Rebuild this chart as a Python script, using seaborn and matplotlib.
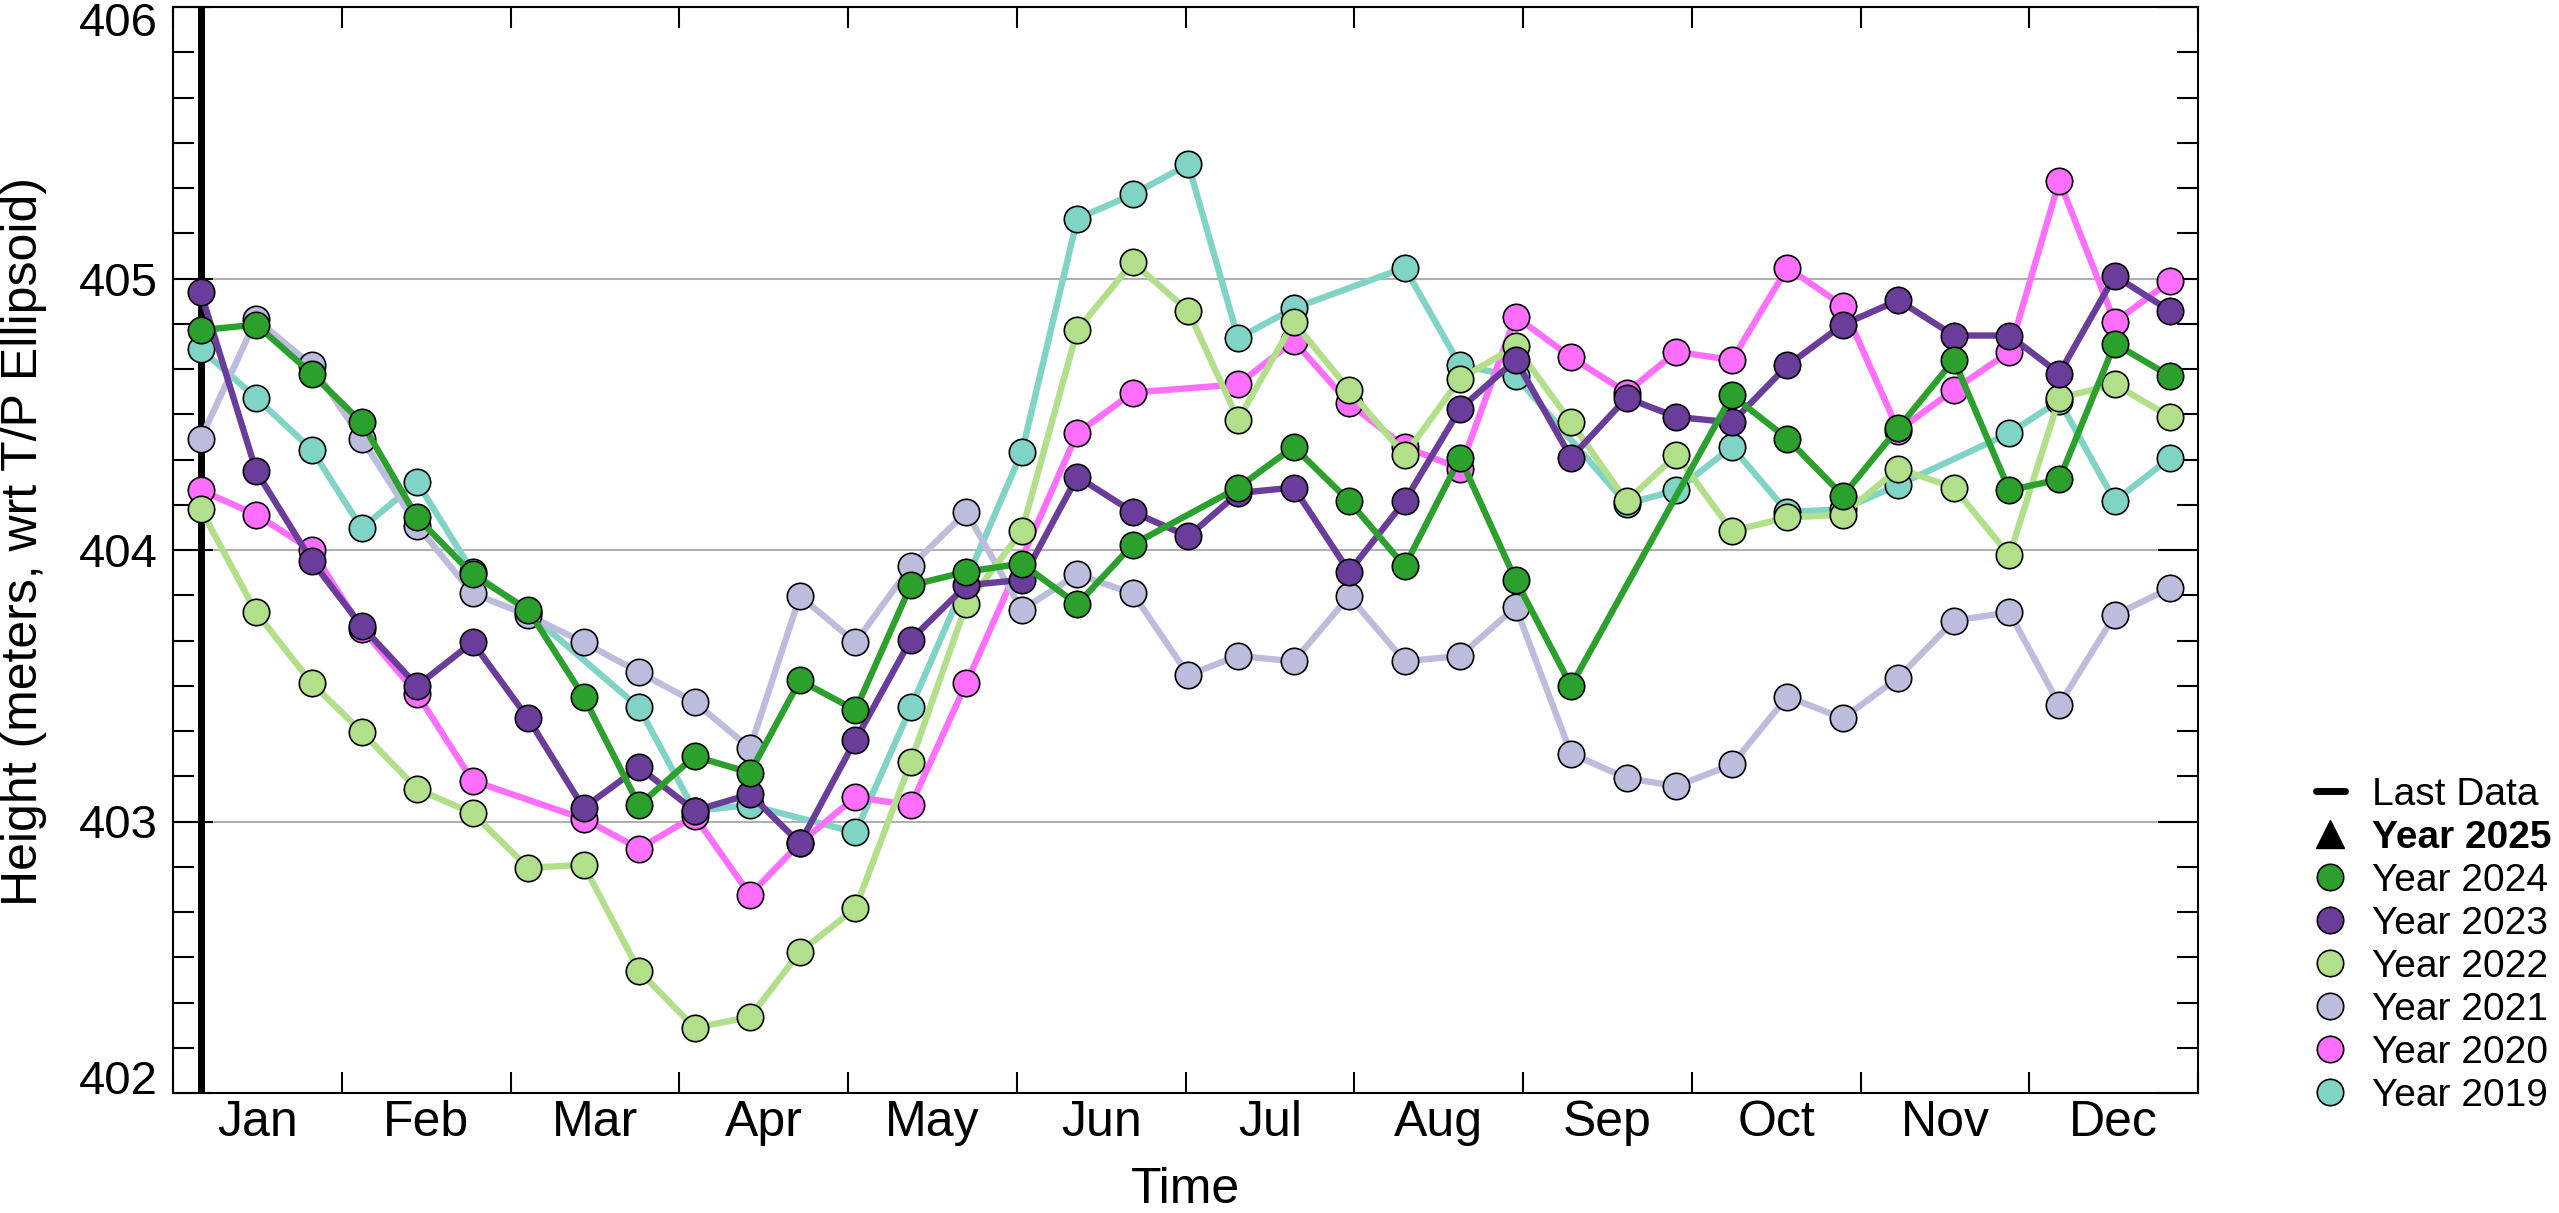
import numpy as np
import pandas as pd
import seaborn as sns
import matplotlib.pyplot as plt
from matplotlib.lines import Line2D
from matplotlib.ticker import MultipleLocator
from matplotlib.transforms import ScaledTranslation

nan = np.nan

# day of year of each ~10 day altimetry cycle
cycle_days = [5, 15, 25, 34, 44, 54, 64, 74, 84, 94, 104, 113, 123, 133, 143, 153, 163, 173,
              183, 192, 202, 212, 222, 232, 242, 252, 262, 271, 281, 291, 301, 311, 321, 331,
              340, 350, 360]
last_data_day = 5

months = ['Jan', 'Feb', 'Mar', 'Apr', 'May', 'Jun', 'Jul', 'Aug', 'Sep', 'Oct', 'Nov', 'Dec']

# heights (m), nan = no cycle that year
h2024 = [404.81, 404.83, 404.65, 404.47, 404.12, 403.91, 403.78, 403.46, 403.06, 403.24,
         403.18, 403.52, 403.41, 403.87, 403.92, 403.95, 403.80, 404.02, nan, 404.23,
         404.38, 404.18, 403.94, 404.34, 403.89, 403.50, nan, nan, 404.57, 404.41,
         404.20, 404.45, 404.70, 404.22, 404.26, 404.76, 404.64]
h2023 = [404.95, 404.29, 403.96, 403.72, 403.50, 403.66, 403.38, 403.05, 403.20, 403.04,
         403.10, 402.92, 403.30, 403.67, 403.87, 403.89, 404.27, 404.14, 404.05, 404.21,
         404.23, 403.92, 404.18, 404.52, 404.70, 404.34, 404.56, 404.49, 404.47, 404.68,
         404.83, 404.92, 404.79, 404.79, 404.65, 405.01, 404.88]
h2022 = [404.15, 403.77, 403.51, 403.33, 403.12, 403.03, 402.83, 402.84, 402.45, 402.24,
         402.28, 402.52, 402.68, 403.22, 403.80, 404.07, 404.81, 405.06, 404.88, 404.48,
         404.84, 404.59, 404.35, 404.63, 404.75, 404.47, 404.18, 404.35, 404.07, 404.12,
         404.13, 404.30, 404.23, 403.98, 404.56, 404.61, 404.49]
h2021 = [404.41, 404.85, 404.68, 404.41, 404.09, 403.84, 403.76, 403.66, 403.55, 403.44,
         403.27, 403.83, 403.66, 403.94, 404.14, 403.78, 403.91, 403.84, 403.54, 403.61,
         403.59, 403.83, 403.59, 403.61, 403.79, 403.25, 403.16, 403.13, 403.21, 403.46,
         403.38, 403.53, 403.74, 403.77, 403.43, 403.76, 403.86]
h2020 = [404.22, 404.13, 404.00, 403.71, 403.47, 403.15, nan, 403.01, 402.90, 403.02,
         402.73, 402.92, 403.09, 403.06, 403.51, nan, 404.43, 404.58, nan, 404.61,
         404.77, 404.54, 404.38, 404.30, 404.86, 404.71, 404.58, 404.73, 404.70, 405.04,
         404.90, 404.44, 404.59, 404.73, 405.36, 404.84, 404.99]
h2019 = [404.74, 404.56, 404.37, 404.08, 404.25, 403.92, 403.77, nan, 403.42, 403.04,
         403.06, nan, 402.96, 403.42, nan, 404.36, 405.22, 405.31, 405.42, 404.78,
         404.89, nan, 405.04, 404.68, 404.64, nan, 404.17, 404.22, 404.38, 404.14,
         404.15, 404.24, nan, 404.43, 404.55, 404.18, 404.34]

series = {'Year 2024': h2024, 'Year 2023': h2023, 'Year 2022': h2022,
          'Year 2021': h2021, 'Year 2020': h2020, 'Year 2019': h2019}
colors = {'Year 2024': '#2ca02c', 'Year 2023': '#6a3d9a', 'Year 2022': '#b2df8a',
          'Year 2021': '#bcbddc', 'Year 2020': '#ff6eff', 'Year 2019': '#80d4c6'}

df = pd.concat([pd.DataFrame({'day': cycle_days, 'height': v, 'year': k})
                for k, v in series.items()]).dropna()

sns.set_style('ticks')
plt.rcParams['font.family'] = ['Liberation Sans', 'DejaVu Sans']
plt.rcParams.update({'text.color': 'black', 'axes.labelcolor': 'black',
                     'xtick.color': 'black', 'ytick.color': 'black'})

fig = plt.figure(figsize=(25.59, 12.13), dpi=100)
ax = fig.add_axes([173 / 2559, 1 - 1093 / 1213, 2025 / 2559, 1086 / 1213])

ax.axvline(last_data_day, color='black', lw=5, zorder=1.5)

# oldest year drawn first so 2024 ends up on top
sns.lineplot(data=df, x='day', y='height', hue='year', hue_order=list(series)[::-1],
             palette=colors, estimator=None, marker='o', markersize=19,
             markeredgecolor='black', markeredgewidth=1.2, linewidth=4.6,
             legend=False, ax=ax)

ax.set_xlim(0, 365)
ax.set_ylim(402, 406)

month_len = 365 / 12
ax.set_xticks([month_len * k for k in range(13)])
ax.set_xticklabels([])
ax.set_xticks([month_len * (k + 0.5) for k in range(12)], minor=True)
ax.set_xticklabels(months, minor=True)
ax.set_yticks([402, 403, 404, 405, 406])
ax.set_yticklabels(['402', '403', '404', '405', '406'])
ax.yaxis.set_minor_locator(MultipleLocator(1 / 6))

ax.tick_params(axis='x', which='major', direction='in', length=15, width=1.5,
               top=True, bottom=True, color='black')
ax.tick_params(axis='x', which='minor', length=0, pad=5, labelsize=36, labelcolor='black')
ax.tick_params(axis='y', which='major', direction='in', length=29, width=1.5,
               left=True, right=True, labelsize=34, pad=11, color='black', labelcolor='black')
ax.tick_params(axis='y', which='minor', direction='in', length=15, width=1.5,
               left=True, right=True, color='black')

ax.grid(axis='y', which='major', color='#b0b0b0', lw=1.5)
ax.set_axisbelow(True)
for s in ax.spines.values():
    s.set_linewidth(1.5)
    s.set_color('black')

ax.set_xlabel('Time', fontsize=36, color='black')
ax.set_ylabel('Height (meters, wrt T/P Ellipsoid)', fontsize=36, color='black')
ax.xaxis.set_label_coords(0.5, -0.068)
ax.yaxis.set_label_coords(-0.062, 0.508)

# end labels pulled inside the frame like the original
for lab in ax.get_yticklabels():
    if lab.get_text() == '406':
        lab.set_transform(lab.get_transform() + ScaledTranslation(0, -0.12, fig.dpi_scale_trans))
    elif lab.get_text() == '402':
        lab.set_transform(lab.get_transform() + ScaledTranslation(0, 0.16, fig.dpi_scale_trans))

handles = [Line2D([], [], color='black', lw=5),
           Line2D([], [], color='black', marker='^', ls='', markersize=20)]
labels = ['Last Data', 'Year 2025']
for k in series:
    handles.append(Line2D([], [], color=colors[k], marker='o', ls='', markersize=19,
                          markeredgecolor='black', markeredgewidth=1.2))
    labels.append(k)
leg = fig.legend(handles, labels, loc='lower left', bbox_to_anchor=(0.905, 0.082),
                 frameon=False, fontsize=28, handlelength=0.75, handletextpad=0.7,
                 labelspacing=0.18, borderpad=0, borderaxespad=0)
for t in leg.get_texts():
    t.set_color('black')
leg.get_texts()[1].set_fontweight('bold')

plt.savefig('out.png', dpi=100)
